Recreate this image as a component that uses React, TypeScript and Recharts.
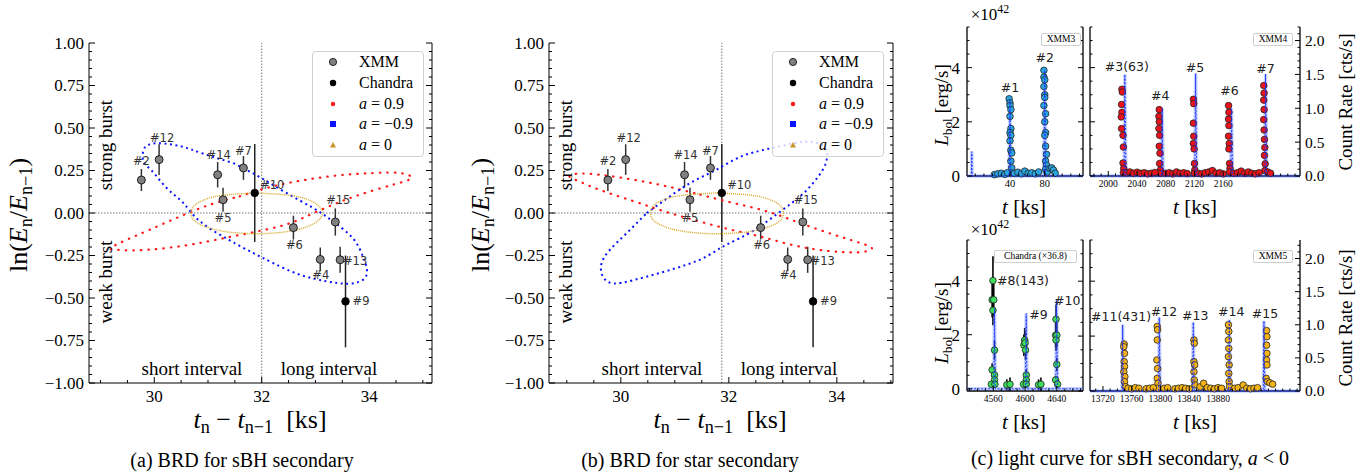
import React from "react";
import { ScatterChart, Scatter, XAxis, YAxis, ErrorBar, ReferenceLine } from "recharts";

const SERIF = '"Liberation Serif", "DejaVu Serif", serif';
const SANS = '"DejaVu Sans", "Noto Sans", sans-serif';

// ---------- (a)/(b) burst recurrence diagram ----------
const xmmBursts = ["#2", "#4", "#5", "#6", "#7", "#12", "#13", "#14", "#15"];
const xmmInterval = [29.76, 33.09, 31.28, 32.59, 31.66, 30.09, 33.46, 31.18, 33.37];
const xmmLnRatio = [0.194, -0.273, 0.078, -0.086, 0.265, 0.314, -0.275, 0.225, -0.053];
const xmmLnErr = [0.065, 0.07, 0.07, 0.07, 0.07, 0.09, 0.077, 0.075, 0.08];

const chandraBursts = ["#9", "#10"];
const chandraInterval = [33.56, 31.87];
const chandraLnRatio = [-0.52, 0.118];
const chandraLnErr = [0.27, 0.288];

// model tracks: [interval, ln ratio]
const redA = [[31.59, 0.098], [32.21, 0.157], [32.83, 0.196], [33.45, 0.222], [34.07, 0.235], [34.57, 0.235], [34.79, 0.206], [34.45, 0.167], [33.83, 0.108], [33.33, 0.049], [32.83, -0.02], [32.34, -0.078], [31.47, -0.137], [30.85, -0.176], [30.23, -0.206], [29.61, -0.22], [29.3, -0.216], [29.19, -0.206], [29.49, -0.157], [29.92, -0.098], [30.48, -0.02], [31.04, 0.049], [31.59, 0.098]];
const blueA = [[31.47, 0.294], [31.97, 0.21], [32.46, 0.118], [32.96, 0.029], [33.33, -0.05], [33.7, -0.15], [33.89, -0.26], [33.96, -0.335], [33.89, -0.392], [33.6, -0.416], [33.21, -0.402], [32.71, -0.363], [32.21, -0.294], [31.84, -0.235], [31.4, -0.16], [30.85, -0.049], [30.54, 0.059], [30.23, 0.147], [29.95, 0.25], [29.8, 0.3], [29.8, 0.37], [29.9, 0.402], [30.1, 0.41], [30.5, 0.392], [30.9, 0.35], [31.47, 0.294]];
const goldA = [[31.9, 0.118], [32.5, 0.105], [32.85, 0.08], [33.05, 0.045], [33.13, 0], [33.05, -0.045], [32.85, -0.08], [32.5, -0.108], [31.9, -0.122], [31.3, -0.108], [30.95, -0.08], [30.75, -0.045], [30.68, 0], [30.75, 0.045], [30.95, 0.08], [31.3, 0.105], [31.9, 0.118]];

const redB = [[31.47, 0.108], [32.08, 0.059], [32.7, 0.01], [33.32, -0.059], [33.94, -0.127], [34.43, -0.176], [34.65, -0.208], [34.5, -0.228], [34.25, -0.232], [33.8, -0.222], [33.2, -0.19], [32.6, -0.14], [32.0, -0.095], [31.4, -0.045], [30.8, 0.01], [30.23, 0.07], [29.6, 0.137], [29.2, 0.19], [29.05, 0.212], [29.18, 0.231], [29.61, 0.225], [30.23, 0.196], [30.85, 0.157], [31.47, 0.108]];
const blueB = [[30.48, 0], [30.91, 0.098], [31.34, 0.186], [31.77, 0.255], [32.21, 0.33], [32.7, 0.375], [33.2, 0.41], [33.55, 0.418], [33.78, 0.385], [33.82, 0.33], [33.75, 0.26], [33.56, 0.176], [33.32, 0.098], [32.98, 0.015], [32.58, -0.078], [32.21, -0.147], [31.9, -0.196], [31.59, -0.255], [31.22, -0.304], [30.72, -0.353], [30.23, -0.395], [29.86, -0.414], [29.67, -0.375], [29.64, -0.3], [29.8, -0.216], [30.11, -0.118], [30.48, 0]];
const goldB = [[31.78, 0.118], [32.4, 0.105], [32.75, 0.08], [32.95, 0.045], [33.01, 0], [32.95, -0.045], [32.75, -0.08], [32.4, -0.108], [31.78, -0.122], [31.16, -0.108], [30.81, -0.08], [30.61, -0.045], [30.55, 0], [30.61, 0.045], [30.81, 0.08], [31.16, 0.105], [31.78, 0.118]];

const brdXMajor = [30, 32, 34];
const brdYMajor = [-1, -0.75, -0.5, -0.25, 0, 0.25, 0.5, 0.75, 1];

// ---------- (c) light curves, L in 1e42 erg/s ----------
const xmm3Time = [39, 40, 40, 41, 40, 41, 40, 41, 40, 41, 42, 41, 42, 41,
  79, 79, 80, 79, 80, 80, 79, 81, 80, 81, 80, 81, 82, 81, 82, 81, 83,
  22, 26, 30, 34, 37, 45, 49, 53, 57, 61, 65, 69, 73, 86, 88, 90, 92];
const xmm3Lum = [2.85, 2.7, 2.6, 2.45, 2.2, 1.75, 1.6, 1.5, 1.3, 0.95, 0.85, 0.55, 0.3, 0.12,
  3.9, 3.65, 3.55, 3.3, 3.0, 2.9, 2.6, 2.3, 2.0, 1.6, 1.5, 1.1, 0.8, 0.55, 0.4, 0.25, 0.15,
  0.05, 0.08, 0.1, 0.06, 0.12, 0.1, 0.14, 0.08, 0.18, 0.1, 0.12, 0.08, 0.15, 0.28, 0.3, 0.22, 0.1];
const xmm3ModelTime = [-9.5, -4.5, -4, -3.5, 39, 40, 41, 79, 80, 81, 124];
const xmm3ModelLum = [0, 0, 0.9, 0, 0, 2.8, 0, 0, 3.9, 0, 0];
const xmm3Tags = ["#1", "#2"];
const xmm3TagTime = [40, 80];
const xmm3TagLum = [2.8, 3.9];

const xmm4Time = [2019, 2019.5, 2018.5, 2019, 2018, 2018.5, 2020.5, 2021, 2020.5, 2021.5, 2021,
  2071, 2070.5, 2071, 2070.5, 2071.5, 2071, 2072, 2071.5, 2072.5, 2072,
  2118.5, 2119, 2118.5, 2119, 2118.5, 2119.5, 2120, 2120.5, 2120,
  2167.5, 2168, 2167.5, 2168, 2167.5, 2168.5, 2168, 2169, 2169.5, 2169,
  2216.5, 2217, 2216.5, 2217, 2216.5, 2217, 2217.5, 2218, 2217.5, 2218.5, 2218,
  2025, 2030, 2035, 2040, 2045, 2050, 2055, 2060, 2065, 2080, 2085, 2090, 2095, 2100, 2105, 2110,
  2125, 2130, 2135, 2140, 2145, 2150, 2155, 2160, 2175, 2180, 2185, 2190, 2195, 2200, 2205, 2210, 2222, 2226];
const xmm4Lum = [3.2, 3.1, 2.64, 2.35, 2.18, 1.75, 1.5, 1.07, 0.48, 0.28, 0.12,
  2.45, 2.2, 2.0, 1.75, 1.5, 1.1, 0.84, 0.46, 0.22, 0.1,
  2.83, 2.67, 1.95, 1.47, 1.2, 1.0, 0.46, 0.22, 0.1,
  2.6, 2.35, 2.1, 1.86, 1.47, 1.2, 1.0, 0.46, 0.28, 0.15,
  3.34, 3.06, 2.8, 2.45, 2.08, 1.7, 1.35, 1.05, 0.76, 0.45, 0.2,
  0.12, 0.15, 0.1, 0.14, 0.1, 0.12, 0.08, 0.1, 0.13, 0.1, 0.12, 0.08, 0.15, 0.1, 0.12, 0.09,
  0.1, 0.08, 0.12, 0.15, 0.2, 0.1, 0.12, 0.08, 0.1, 0.12, 0.18, 0.1, 0.15, 0.1, 0.08, 0.12, 0.15, 0.1];
const xmm4ModelTime = [1975, 2022, 2023, 2024.5, 2074, 2075, 2076.5, 2120.5, 2121.6, 2123, 2170.5, 2171.6, 2173, 2218, 2219, 2220.5, 2267];
const xmm4ModelLum = [0, 0, 3.75, 0, 0, 2.48, 0, 0, 3.78, 0, 0, 2.5, 0, 0, 3.76, 0, 0];
const xmm4Tags = ["#3(63)", "#4", "#5", "#6", "#7"];
const xmm4TagTime = [2023, 2075, 2121.6, 2171.6, 2219];
const xmm4TagLum = [3.75, 2.48, 3.78, 2.5, 3.76];

const chandraTime = [4559.5, 4558.5, 4560.5, 4559.5, 4561.5, 4558.5, 4561.5, 4561.5, 4557.5, 4562,
  4599.5, 4598.5, 4600, 4600.5, 4601.5, 4601.5, 4598, 4601.5,
  4639, 4638.5, 4640, 4639, 4640, 4638.5, 4641,
  4577, 4581, 4617, 4620];
const chandraLum = [4.0, 3.29, 3.29, 2.9, 1.43, 0.7, 0.51, 0.33, 0.17, 0.17,
  1.8, 1.61, 1.7, 1.43, 0.51, 0.33, 0.17, 0.17,
  2.57, 1.98, 1.98, 1.8, 0.9, 0.33, 0.17,
  0.15, 0.17, 0.15, 0.17];
const chandraLumErr = [0.9, 0.65, 0.6, 0.55, 0.35, 0.25, 0.2, 0.15, 0.12, 0.12,
  0.45, 0.4, 0.4, 0.35, 0.2, 0.15, 0.12, 0.12,
  0.55, 0.45, 0.45, 0.4, 0.25, 0.15, 0.12,
  0.2, 0.25, 0.2, 0.25];
const chandraModelTime = [4527, 4560.5, 4561.5, 4562.5, 4600.4, 4601.4, 4602.5, 4638.7, 4639.7, 4641, 4673];
const chandraModelLum = [0, 0, 2.96, 0, 0, 2.78, 0, 0, 3.27, 0, 0];
const chandraTags = ["#8(143)", "#9", "#10"];
const chandraTagTime = [4559.5, 4601.4, 4639.7];
const chandraTagLum = [4.0, 2.78, 3.27];

const xmm5Time = [13749.5, 13749, 13750, 13749.5, 13750, 13749, 13750.5, 13750, 13751,
  13795.5, 13796, 13795.5, 13795, 13796, 13795.5, 13796.5, 13796,
  13846.5, 13847, 13846.5, 13847.5, 13846.5, 13847, 13848,
  13894.5, 13895, 13894.5, 13895, 13894.5, 13895.5, 13895, 13895.5, 13896,
  13947.5, 13948, 13947.5, 13948, 13947.5, 13948, 13947, 13948.5,
  13755, 13760, 13765, 13770, 13780, 13785, 13790, 13805, 13810, 13820, 13825, 13830, 13835, 13840,
  13855, 13860, 13865, 13870, 13875, 13880, 13885, 13903, 13908, 13915, 13920, 13925, 13930, 13935, 13952, 13956];
const xmm5Lum = [1.71, 1.61, 1.37, 1.07, 0.89, 0.7, 0.52, 0.34, 0.16,
  2.35, 2.23, 1.86, 1.13, 0.82, 0.46, 0.28, 0.1,
  1.86, 1.74, 1.07, 0.95, 0.7, 0.4, 0.22,
  2.41, 2.17, 1.86, 1.55, 1.25, 0.95, 0.64, 0.34, 0.16,
  2.2, 1.98, 1.67, 1.37, 1.13, 0.95, 0.46, 0.34,
  0.1, 0.08, 0.12, 0.1, 0.08, 0.1, 0.12, 0.1, 0.12, 0.08, 0.1, 0.12, 0.1, 0.08,
  0.15, 0.28, 0.12, 0.1, 0.08, 0.12, 0.1, 0.1, 0.12, 0.22, 0.1, 0.08, 0.1, 0.12, 0.3, 0.25];
const xmm5ModelTime = [13702, 13746.5, 13747.4, 13748.5, 13797.3, 13798.3, 13799.5, 13844.6, 13845.6, 13846.8, 13894.7, 13895.7, 13897, 13943, 13943.9, 13945, 13994];
const xmm5ModelLum = [0, 0, 2.41, 0, 0, 2.68, 0, 0, 2.5, 0, 0, 2.6, 0, 0, 2.55, 0, 0];
const xmm5Tags = ["#11(431)", "#12", "#13", "#14", "#15"];
const xmm5TagTime = [13747.4, 13798.3, 13845.6, 13895.7, 13943.9];
const xmm5TagLum = [2.41, 2.68, 2.5, 2.6, 2.55];

const xmm3XMajor = [40, 80];
const xmm4XMajor = [2000, 2040, 2080, 2120, 2160];
const chandraXMajor = [4560, 4600, 4640];
const xmm5XMajor = [13720, 13760, 13800, 13840, 13880];
const lumMajor = [0, 2, 4];
const rateMajor = [0, 0.5, 1, 1.5, 2];

// label placement (px from anchor)
const brdTagOffset: Record<string, [number, number]> = {
  "#2": [0, -19], "#12": [3, -21.5], "#14": [1, -20], "#7": [0, -17], "#10": [17.5, -8],
  "#5": [0, 18.5], "#6": [1, 17.5], "#15": [3, -22], "#4": [0.5, 15.5], "#13": [15, 1.5], "#9": [15.5, 0],
};
const lcTagOffset: Record<string, [number, number, string]> = {
  "#1": [0, -12.5, "middle"], "#2": [0, -12.3, "middle"],
  "#3(63)": [2, -8, "middle"], "#4": [-2, -12.7, "middle"], "#5": [-0.7, -6.2, "middle"], "#6": [-2, -17.8, "middle"], "#7": [0, -5.7, "middle"],
  "#8(143)": [4, 0, "start"], "#9": [3, 1, "start"], "#10": [-2.5, 0, "start"],
  "#11(431)": [-1.6, -8, "middle"], "#12": [4.7, -6, "middle"], "#13": [2, -7, "middle"], "#14": [2, -8, "middle"], "#15": [1, -7, "middle"],
};

const steps = (a: number, b: number, s: number) => {
  const out: number[] = [];
  for (let i = 0; a + i * s <= b + 1e-9; i++) out.push(Math.round((a + i * s) * 1e4) / 1e4);
  return out;
};
const zip = (t: number[], v: number[], e?: number[]) => t.map((x, i) => ({ t: x, y: v[i], err: e ? e[i] : 0 }));
const pairs = (p: number[][]) => p.map(([t, y]) => ({ t, y }));
const tagRows = (names: string[], t: number[], v: number[]) => names.map((n, i) => ({ t: t[i], y: v[i], name: n }));

type Side = "bottom" | "top" | "left" | "right";
function ticker(side: Side, majors: number[], fmt?: (v: number) => string, size = 16, gap = 5, majLen = 6, minLen = 3) {
  return (p: any) => {
    const { x, y } = p;
    const v = Number(p.payload?.value);
    const isMaj = majors.some((m) => Math.abs(m - v) < 1e-6);
    const len = isMaj ? majLen : minLen;
    const d = { bottom: [0, -1], top: [0, 1], left: [1, 0], right: [-1, 0] }[side];
    const ts = { fontFamily: SERIF, fontSize: size };
    let label = null;
    if (isMaj && fmt) {
      if (side === "bottom")
        label = <text x={x} y={y + gap + size * 0.72} textAnchor="middle" style={ts} fill="#000">{fmt(v)}</text>;
      else if (side === "left")
        label = <text x={x - gap} y={y} dy="0.35em" textAnchor="end" style={ts} fill="#000">{fmt(v)}</text>;
      else if (side === "right")
        label = <text x={x + gap} y={y} dy="0.35em" textAnchor="start" style={ts} fill="#000">{fmt(v)}</text>;
    }
    return (
      <g>
        <line x1={x} y1={y} x2={x + d[0] * len} y2={y + d[1] * len} stroke="#000" strokeWidth={1} />
        {label}
      </g>
    );
  };
}

function Txt(props: { x: number; y: number; size: number; rot?: number; family?: string; children: any }) {
  return (
    <div style={{ position: "absolute", left: props.x, top: props.y, transform: `translate(-50%, -50%) rotate(${props.rot || 0}deg)`, fontSize: props.size, fontFamily: props.family || SERIF, whiteSpace: "nowrap", lineHeight: 1, color: "#000" }}>
      {props.children}
    </div>
  );
}
const Sub = ({ children }: any) => <span style={{ fontSize: "0.7em", position: "relative", top: "0.3em" }}>{children}</span>;
const Sup = ({ children }: any) => <span style={{ fontSize: "0.7em", position: "relative", top: "-0.55em" }}>{children}</span>;
const I = ({ children }: any) => <i>{children}</i>;

const noShape = () => <g />;

function BrdLegend({ left }: { left: number }) {
  const rows = [
    { m: <circle cx={7} cy={7} r={3.6} fill="#808080" stroke="#000" strokeWidth={0.8} />, t: <>XMM</> },
    { m: <circle cx={7} cy={7} r={3.2} fill="#000" />, t: <>Chandra</> },
    { m: <circle cx={7} cy={7} r={2.2} fill="#ff1a1a" />, t: <><I>a</I> = 0.9</> },
    { m: <rect x={4} y={4} width={6} height={6} fill="#0a14ff" />, t: <><I>a</I> = −0.9</> },
    { m: <polygon points="7,4 10,9.5 4,9.5" fill="#c8962a" />, t: <><I>a</I> = 0</> },
  ];
  return (
    <div style={{ position: "absolute", left, top: 51, width: 112, height: 106, background: "rgba(255,255,255,0.8)", border: "1px solid #d0d0d0", borderRadius: 4, boxSizing: "border-box" }}>
      {rows.map((r, i) => (
        <div key={i}>
          <svg width={14} height={14} style={{ position: "absolute", left: 13, top: 11.3 + i * 20.7 - 7 - 1 }}>{r.m}</svg>
          <span style={{ position: "absolute", left: 46, top: 11.3 + i * 20.7 - 1, transform: "translateY(-50%)", fontSize: 16, fontFamily: SERIF, whiteSpace: "nowrap", lineHeight: 1 }}>{r.t}</span>
        </div>
      ))}
    </div>
  );
}

function BrdPanel(props: { left: number; plotL: number; plotR: number; xDomain: [number, number]; vLine: number; red: number[][]; blue: number[][]; gold: number[][] }) {
  const W = 450, H = 440, plotT = 43, plotB = 383;
  const lw = props.plotL - props.left;
  const rw = props.left + W - props.plotR;
  const xTicks = steps(29, 35, 0.5);
  const yTicks = steps(-1, 1, 0.05);
  const fmtY = (v: number) => v.toFixed(2).replace("-", "−");
  const xmm = xmmBursts.map((id, i) => ({ t: xmmInterval[i], y: xmmLnRatio[i], err: xmmLnErr[i], id }));
  const cha = chandraBursts.map((id, i) => ({ t: chandraInterval[i], y: chandraLnRatio[i], err: chandraLnErr[i], id }));
  const point = (fill: string, r: number) => (p: any) => {
    const off = brdTagOffset[p.payload.id] || [0, -15];
    return (
      <g>
        <circle cx={p.cx} cy={p.cy} r={r} fill={fill} stroke="#000" strokeWidth={0.8} />
        <text x={p.cx + off[0]} y={p.cy + off[1]} dy="0.35em" textAnchor="middle" style={{ fontFamily: SANS, fontSize: 11.5 }} fill="#333">{p.payload.id}</text>
      </g>
    );
  };
  const axisStyle = { tickSize: 0, tickMargin: 0, tickLine: false, axisLine: { stroke: "#000" }, interval: 0 as const, type: "number" as const };
  return (
    <div style={{ position: "absolute", left: props.left, top: 0 }}>
      <ScatterChart width={W} height={H} margin={{ top: plotT, right: 0, bottom: 0, left: 0 }}>
        <XAxis dataKey="t" domain={props.xDomain} ticks={xTicks} height={H - plotB} {...axisStyle} tick={ticker("bottom", brdXMajor, (v) => String(v), 17, 6.5)} />
        <XAxis xAxisId="top" orientation="top" domain={props.xDomain} allowDataOverflow ticks={xTicks} height={0} {...axisStyle} tick={ticker("top", brdXMajor)} />
        <YAxis dataKey="y" domain={[-1, 1]} ticks={yTicks} width={lw} {...axisStyle} tick={ticker("left", brdYMajor, fmtY, 17, 5)} />
        <YAxis yAxisId="right" orientation="right" domain={[-1, 1]} allowDataOverflow ticks={yTicks} width={rw} {...axisStyle} tick={ticker("right", brdYMajor)} />
        <ReferenceLine x={props.vLine} stroke="#555" strokeDasharray="1.5 1.5" strokeWidth={0.8} />
        <ReferenceLine y={0} stroke="#555" strokeDasharray="1.5 1.5" strokeWidth={0.8} />
        <Scatter data={pairs(props.red)} shape={noShape} isAnimationActive={false} legendType="none" lineType="joint" lineJointType="natural"
          line={{ stroke: "#ff1a1a", strokeWidth: 2.2, strokeDasharray: "0.5 7", strokeLinecap: "round", fill: "none" }} />
        <Scatter data={pairs(props.blue)} shape={noShape} isAnimationActive={false} legendType="none" lineType="joint" lineJointType="natural"
          line={{ stroke: "#0a14ff", strokeWidth: 2, strokeDasharray: "2 3.5", fill: "none" }} />
        <Scatter data={pairs(props.gold)} shape={noShape} isAnimationActive={false} legendType="none" lineType="joint" lineJointType="natural"
          line={{ stroke: "#d6a325", strokeWidth: 1.4, strokeDasharray: "1 1", fill: "none" }} />
        <Scatter data={xmm} shape={point("#808080", 4)} isAnimationActive={false}>
          <ErrorBar dataKey="err" direction="y" width={0} stroke="#333" strokeWidth={1.5} />
        </Scatter>
        <Scatter data={cha} shape={point("#000", 3.8)} isAnimationActive={false}>
          <ErrorBar dataKey="err" direction="y" width={0} stroke="#222" strokeWidth={1.5} />
        </Scatter>
      </ScatterChart>
    </div>
  );
}

type Box = { l: number; t: number; r: number; b: number };
function LcPanel(props: {
  box: Box; xDomain: [number, number]; xMajor: number[]; xFont: number; leftLabels: boolean; rightLabels: boolean; rateMax: number;
  pts: { t: number; y: number; err: number }[]; model: { t: number; y: number }[]; color: string; tags: { t: number; y: number; name: string }[]; withErr?: boolean;
}) {
  const { box } = props;
  const padL = props.leftLabels ? 40 : 6;
  const padR = props.rightLabels ? 42 : 6;
  const padT = 4, padB = 22;
  const W = box.r - box.l + padL + padR;
  const H = box.b - box.t + padT + padB;
  const xTicks = steps(Math.ceil(props.xDomain[0] / 10) * 10, props.xDomain[1], 10);
  const lumTicks = steps(0, 5.5, 0.5);
  const tag = (p: any) => {
    const o = lcTagOffset[p.payload.name] || [0, -10, "middle"];
    return <text x={p.cx + o[0]} y={p.cy + o[1]} dy="0.35em" textAnchor={o[2] as any} style={{ fontFamily: SANS, fontSize: 12.5 }} fill="#222">{p.payload.name}</text>;
  };
  const dot = (p: any) => <circle cx={p.cx} cy={p.cy} r={3.3} fill={props.color} stroke="#222" strokeWidth={0.8} />;
  const ax = { tickSize: 0, tickMargin: 0, tickLine: false, axisLine: { stroke: "#000", strokeWidth: 1.3 }, interval: 0 as const, type: "number" as const };
  return (
    <div style={{ position: "absolute", left: box.l - padL, top: box.t - padT }}>
      <ScatterChart width={W} height={H} margin={{ top: padT, right: 0, bottom: 0, left: 0 }}>
        <XAxis dataKey="t" domain={props.xDomain} ticks={xTicks} height={padB} {...ax} tick={ticker("bottom", props.xMajor, (v) => String(v), props.xFont, 3.8, 5, 2.5)} />
        <XAxis xAxisId="top" orientation="top" domain={props.xDomain} allowDataOverflow ticks={xTicks} height={0} {...ax} tick={ticker("top", props.xMajor, undefined, 10, 4, 5, 2.5)} />
        <YAxis dataKey="y" domain={[0, 5.5]} ticks={lumTicks} width={padL} {...ax}
          tick={ticker("left", lumMajor, props.leftLabels ? (v) => String(v) : undefined, 17, 7, 5, 2.5)} />
        {props.rightLabels ? (
          <YAxis yAxisId="rate" orientation="right" domain={[0, props.rateMax]} allowDataOverflow ticks={steps(0, 2.2, 0.1).filter((v) => v <= props.rateMax)} width={padR} {...ax}
            tick={ticker("right", rateMajor, (v) => v.toFixed(1), 15.5, 5, 5, 2.5)} />
        ) : (
          <YAxis yAxisId="rate" orientation="right" domain={[0, 5.5]} allowDataOverflow ticks={lumTicks} width={padR} {...ax} tick={ticker("right", lumMajor, undefined, 10, 4, 5, 2.5)} />
        )}
        <Scatter data={props.model} shape={noShape} isAnimationActive={false} legendType="none" lineType="joint"
          line={{ stroke: "rgba(90,130,255,0.35)", strokeWidth: 3.5, fill: "none" }} />
        <Scatter data={props.pts} shape={dot} isAnimationActive={false}>
          {props.withErr ? <ErrorBar dataKey="err" direction="y" width={0} stroke="#000" strokeWidth={1.6} /> : null}
        </Scatter>
        <Scatter data={props.model} shape={noShape} isAnimationActive={false} legendType="none" lineType="joint"
          line={{ stroke: "#1f30ff", strokeWidth: 1, strokeDasharray: "2 1.5", fill: "none" }} />
        <Scatter data={props.tags} shape={tag} isAnimationActive={false} legendType="none" />
      </ScatterChart>
    </div>
  );
}

function Tagbox({ x, y, w, children }: { x: number; y: number; w: number; children: any }) {
  return (
    <div style={{ position: "absolute", left: x, top: y, width: w, height: 13, border: "1px solid #cfcfcf", borderRadius: 2, background: "rgba(255,255,255,0.85)", boxSizing: "border-box", fontFamily: SERIF, fontSize: 9.5, lineHeight: "11px", textAlign: "center", whiteSpace: "nowrap" }}>
      {children}
    </div>
  );
}

const BrdYLabel = () => (<><span>ln(</span><I>E</I><Sub>n</Sub>/<I>E</I><Sub>n−1</Sub>)</>);
const BrdXLabel = () => (<><I>t</I><Sub>n</Sub> − <I>t</I><Sub>n−1</Sub>&nbsp; [ks]</>);

export default function App() {
  const tl: Box = { l: 967, t: 27, r: 1083, b: 176 };
  const tr: Box = { l: 1090, t: 27, r: 1300, b: 176 };
  const bl: Box = { l: 967, t: 240, r: 1083, b: 391 };
  const br: Box = { l: 1090, t: 240, r: 1300, b: 391 };
  return (
    <div style={{ position: "absolute", left: 0, top: 0, width: 1370, height: 472, background: "#fff", overflow: "hidden", fontFamily: SERIF }}>
      {/* (a) */}
      <BrdPanel left={0} plotL={89} plotR={432} xDomain={[28.785, 35.17]} vLine={32} red={redA} blue={blueA} gold={goldA} />
      <BrdLegend left={312} />
      <Txt x={105} y={145} size={19} rot={-90}>strong burst</Txt>
      <Txt x={105} y={282} size={19} rot={-90}>weak burst</Txt>
      <Txt x={192} y={368} size={19}>short interval</Txt>
      <Txt x={329} y={368} size={19}>long interval</Txt>
      <Txt x={19} y={215} size={26} rot={-90}><BrdYLabel /></Txt>
      <Txt x={260} y={420} size={26}><BrdXLabel /></Txt>
      <Txt x={242} y={460} size={20}>(a) BRD for sBH secondary</Txt>

      {/* (b) */}
      <BrdPanel left={460} plotL={549} plotR={893} xDomain={[28.67, 35.04]} vLine={31.87} red={redB} blue={blueB} gold={goldB} />
      <BrdLegend left={772} />
      <Txt x={565} y={145} size={19} rot={-90}>strong burst</Txt>
      <Txt x={565} y={282} size={19} rot={-90}>weak burst</Txt>
      <Txt x={652} y={368} size={19}>short interval</Txt>
      <Txt x={789} y={368} size={19}>long interval</Txt>
      <Txt x={481} y={215} size={26} rot={-90}><BrdYLabel /></Txt>
      <Txt x={720} y={420} size={26}><BrdXLabel /></Txt>
      <Txt x={690} y={460} size={20}>(b) BRD for star secondary</Txt>

      {/* (c) */}
      <LcPanel box={tl} xDomain={[-9.5, 124]} xMajor={xmm3XMajor} xFont={10.5} leftLabels rightLabels={false} rateMax={2.2}
        pts={zip(xmm3Time, xmm3Lum)} model={zip(xmm3ModelTime, xmm3ModelLum)} color="#2aa5e0" tags={tagRows(xmm3Tags, xmm3TagTime, xmm3TagLum)} />
      <LcPanel box={tr} xDomain={[1974.5, 2267]} xMajor={xmm4XMajor} xFont={9.5} leftLabels={false} rightLabels rateMax={2.2}
        pts={zip(xmm4Time, xmm4Lum)} model={zip(xmm4ModelTime, xmm4ModelLum)} color="#e8131b" tags={tagRows(xmm4Tags, xmm4TagTime, xmm4TagLum)} />
      <LcPanel box={bl} xDomain={[4526.8, 4673]} xMajor={chandraXMajor} xFont={9.5} leftLabels rightLabels={false} rateMax={2.28}
        pts={zip(chandraTime, chandraLum, chandraLumErr)} model={zip(chandraModelTime, chandraModelLum)} color="#3ddc5a" withErr
        tags={tagRows(chandraTags, chandraTagTime, chandraTagLum)} />
      <LcPanel box={br} xDomain={[13702, 13994]} xMajor={xmm5XMajor} xFont={9.5} leftLabels={false} rightLabels rateMax={2.28}
        pts={zip(xmm5Time, xmm5Lum)} model={zip(xmm5ModelTime, xmm5ModelLum)} color="#f5b316" tags={tagRows(xmm5Tags, xmm5TagTime, xmm5TagLum)} />
      <Tagbox x={1041} y={33} w={40}>XMM3</Tagbox>
      <Tagbox x={1253} y={33} w={40}>XMM4</Tagbox>
      <Tagbox x={994} y={250} w={83}>Chandra (×36.8)</Tagbox>
      <Tagbox x={1253} y={250} w={40}>XMM5</Tagbox>
      <Txt x={990} y={14} size={17}>×10<Sup>42</Sup></Txt>
      <Txt x={990} y={229} size={17}>×10<Sup>42</Sup></Txt>
      <Txt x={941} y={105} size={19} rot={-90}><I>L</I><Sub>bol</Sub> [erg/s]</Txt>
      <Txt x={941} y={323} size={19} rot={-90}><I>L</I><Sub>bol</Sub> [erg/s]</Txt>
      <Txt x={1345} y={102} size={19} rot={-90}>Count Rate [cts/s]</Txt>
      <Txt x={1345} y={318} size={19} rot={-90}>Count Rate [cts/s]</Txt>
      <Txt x={1024} y={207} size={21}><I>t</I> [ks]</Txt>
      <Txt x={1195} y={207} size={21}><I>t</I> [ks]</Txt>
      <Txt x={1024} y={422} size={21}><I>t</I> [ks]</Txt>
      <Txt x={1195} y={422} size={21}><I>t</I> [ks]</Txt>
      <Txt x={1130} y={458} size={20}>(c) light curve for sBH secondary, <I>a</I> &lt; 0</Txt>
    </div>
  );
}
